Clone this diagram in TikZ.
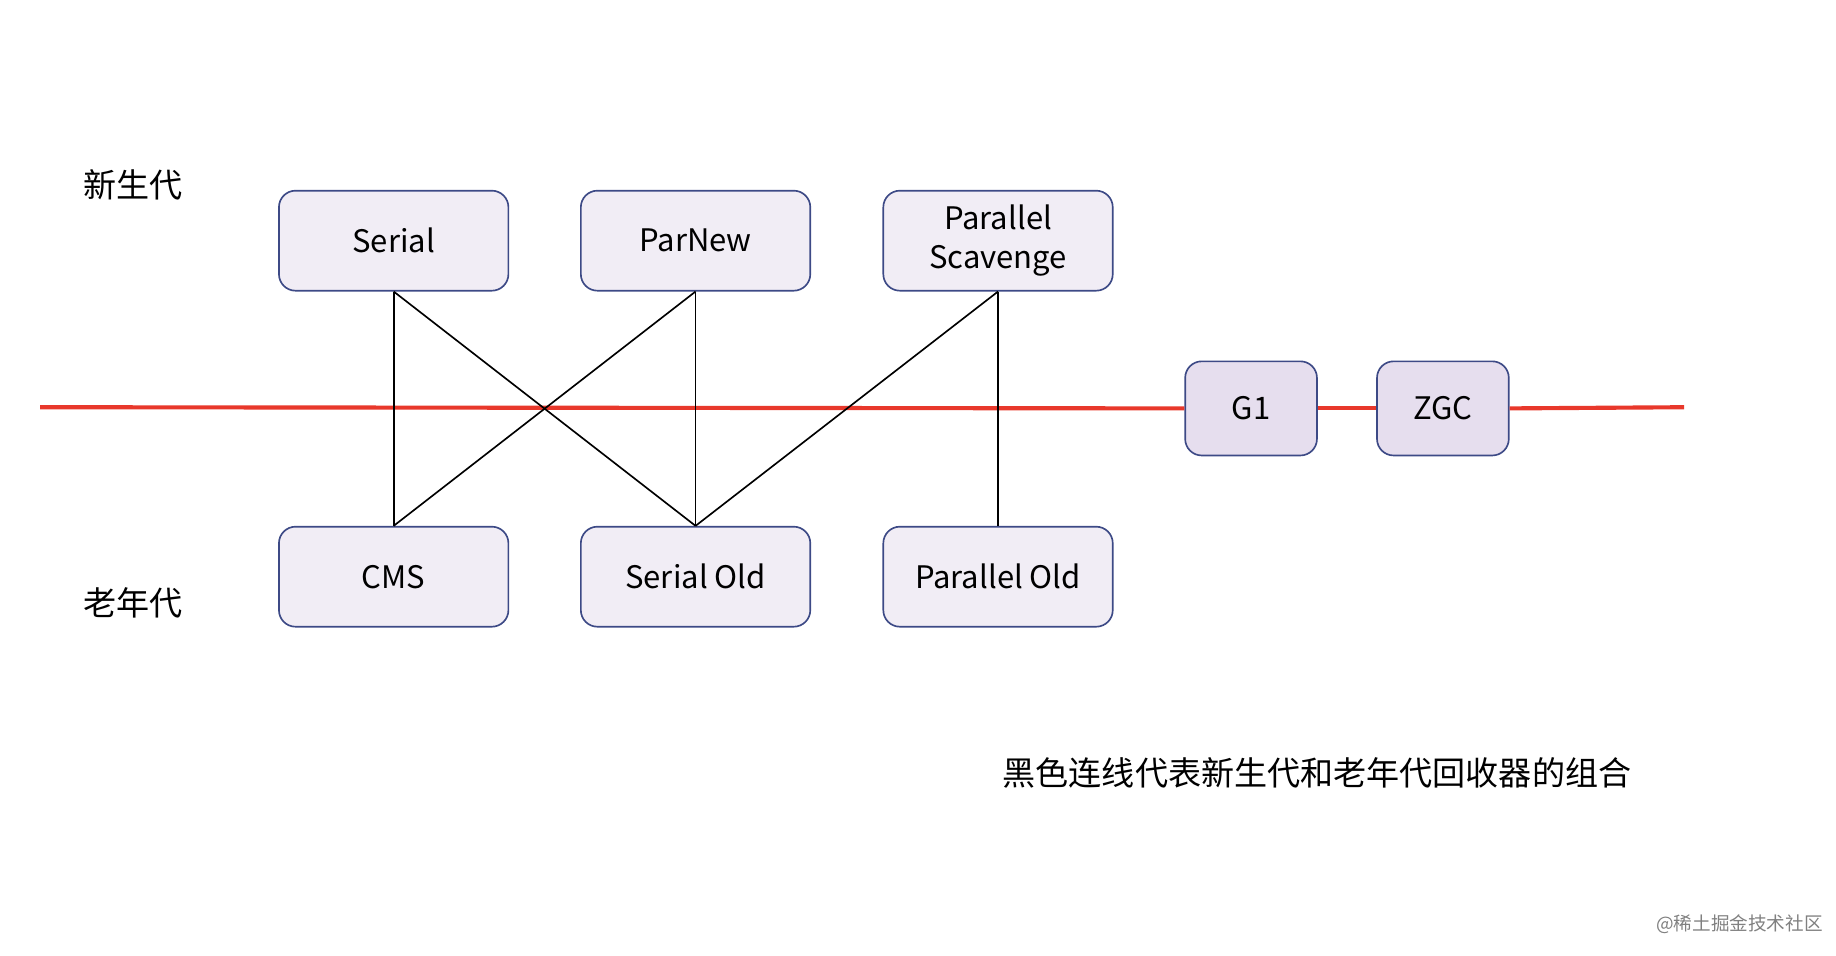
\documentclass[tikz,border=0pt]{standalone}
\usepackage{fontspec}
\setmainfont{Noto Sans CJK SC}
\usetikzlibrary{positioning}
\definecolor{boxfill}{HTML}{F1EDF5}
\definecolor{gfill}{HTML}{E6DEEE}
\definecolor{boxdraw}{HTML}{3D4A86}
\definecolor{redline}{HTML}{E8382B}

\begin{document}
\begin{tikzpicture}
[x=0.02cm, y=-0.02cm, gc/.style={draw=boxdraw, fill=boxfill, rounded corners=8pt, thick, minimum width=3.9cm, minimum height=1.7cm, align=center, font=\fontsize{15}{19}\selectfont}, small gc/.style={gc, fill=gfill, minimum width=2.24cm, minimum height=1.6cm}, gen label/.style={font=\fontsize{16}{20}\selectfont}, combo line/.style={thick, black}]
    \useasboundingbox (0,0) rectangle (1560,812);
    \node[gen label] (young) at (113,157) {新生代};
    \node[gen label] (old) at (113,512) {老年代};
    \node[gc] (serial) at (334.5,204.5) {Serial};
    \node[gc] (parnew) at (591,204.5) {ParNew};
    \node[gc] (ps) at (848,204.5) {Parallel\\Scavenge};
    \node[gc] (cms) at (334.5,490) {CMS};
    \node[gc] (serialold) at (591,490) {Serial Old};
    \node[gc] (parold) at (848,490) {Parallel Old};
    \node[small gc] (g1) at (1063,347) {G1};
    \node[small gc] (zgc) at (1226,347) {ZGC};
    \coordinate (rstart) at (34,346);
    \coordinate (rend) at (1431,346);
    \draw[redline, line width=2pt] (rstart) -- (g1.west);
    \draw[redline, line width=2pt] (g1.east) -- (zgc.west);
    \draw[redline, line width=2pt] (zgc.east) -- (rend);
    \draw[combo line] (serial.south) -- (cms.north);
    \draw[combo line] (serial.south) -- (serialold.north);
    \draw[combo line] (parnew.south) -- (cms.north);
    \draw[combo line] (parnew.south) -- (serialold.north);
    \draw[combo line] (ps.south) -- (serialold.north);
    \draw[combo line] (ps.south) -- (parold.north);
    \node[gen label] (note) at (1119,657) {黑色连线代表新生代和老年代回收器的组合};
    \node[font=\fontsize{9}{11}\selectfont, text=gray] (mark) at (1478,785) {@稀土掘金技术社区};
\end{tikzpicture}
\end{document}
